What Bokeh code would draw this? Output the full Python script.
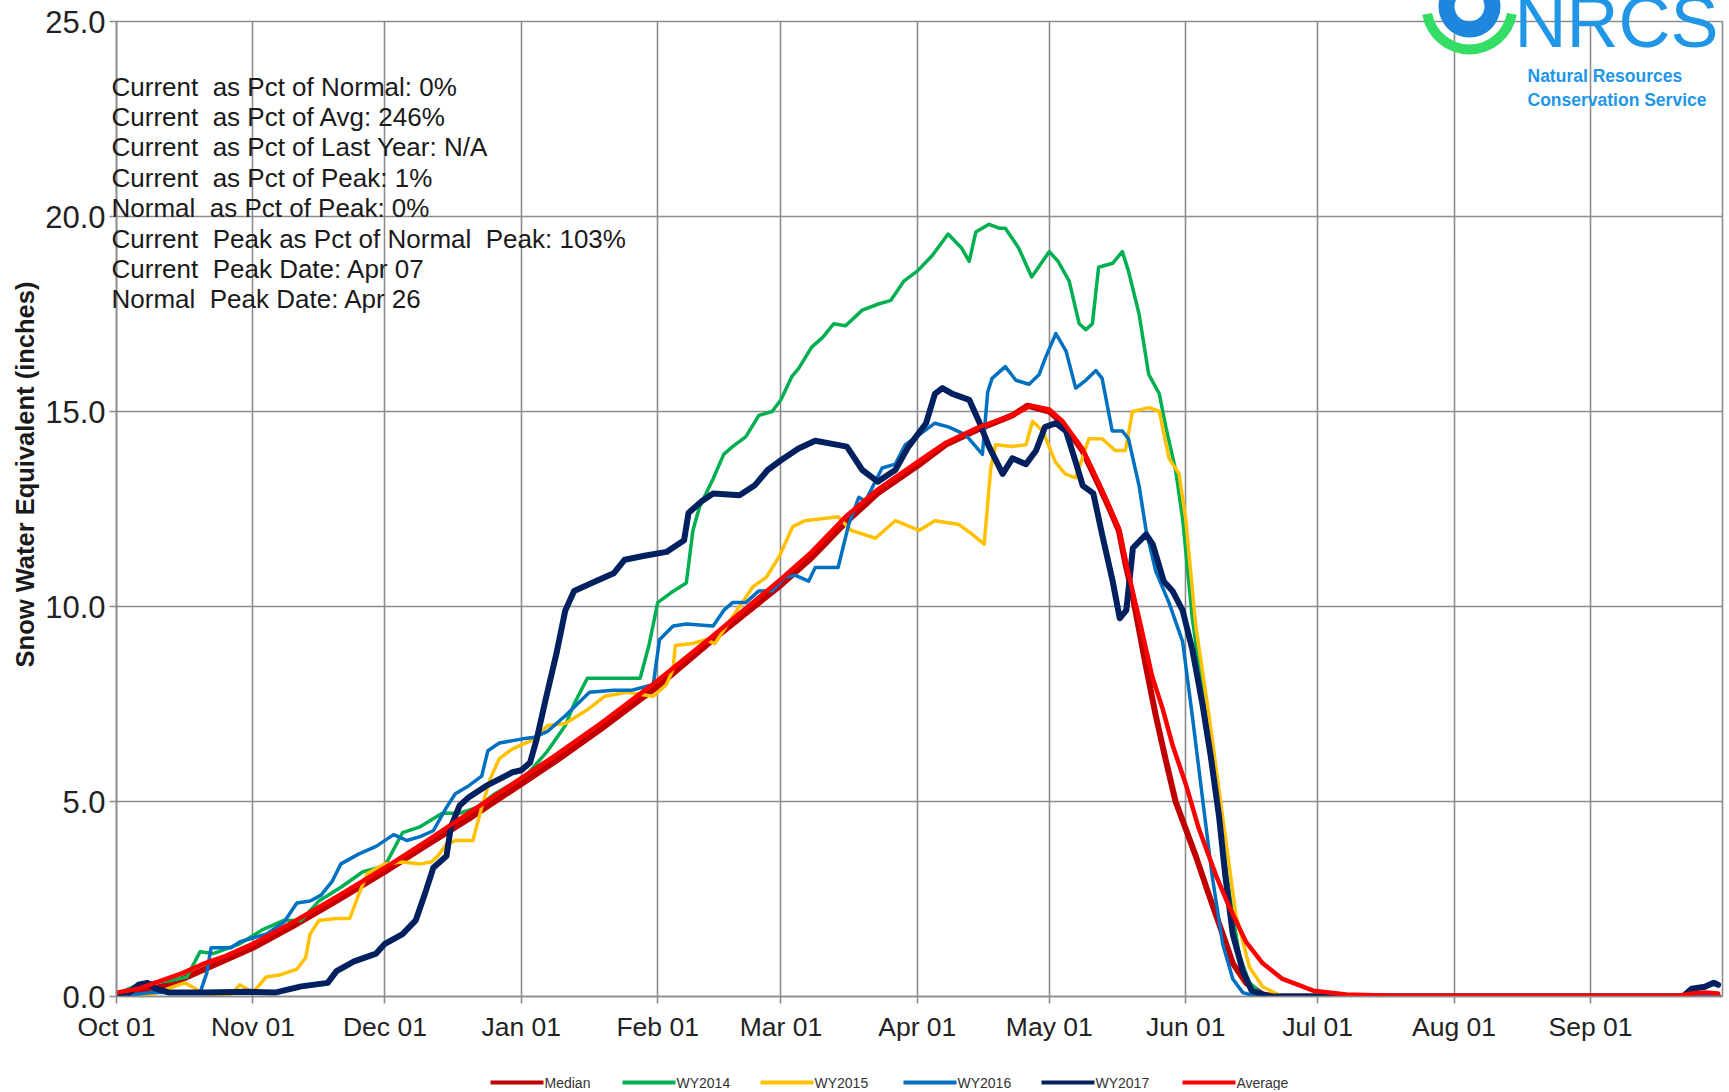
from bokeh.plotting import figure
from bokeh.models import Range1d, FixedTicker, NumeralTickFormatter
from bokeh.core.properties import value
from bokeh.embed import file_html
from bokeh.resources import INLINE
import math

# ---------------- data (day of water year from Oct 01, SWE inches) ----------------
MONTH_DAYS = [0, 31, 61, 92, 123, 151, 182, 212, 243, 273, 304, 335]
MONTH_LABELS = ["Oct 01", "Nov 01", "Dec 01", "Jan 01", "Feb 01", "Mar 01",
                "Apr 01", "May 01", "Jun 01", "Jul 01", "Aug 01", "Sep 01"]
Y_TICKS = [0, 5, 10, 15, 20, 25]

median_days = [0, 5, 10, 15, 20, 25, 31, 40, 50, 61, 70, 80, 92, 100, 110, 123, 135, 151, 158, 165.7, 173,
               182, 188.5, 196, 203.6, 207, 212, 215, 219.5, 223.3, 225.5, 227.8, 229.3, 230.9, 233.9, 236.2,
               238.5, 240.7, 243, 245.3, 248.3, 251.4, 253.7, 256.7, 260.5, 264, 364]
median_vals = [0.0, 0.1, 0.25, 0.45, 0.7, 0.95, 1.25, 1.8, 2.45, 3.2, 3.85, 4.55, 5.45, 6.05, 6.85, 7.95, 9.1,
               10.55, 11.25, 12.15, 12.9, 13.6, 14.15, 14.55, 14.9, 15.15, 15.0, 14.7, 14.0, 13.1, 12.55, 11.95,
               11.1, 10.3, 8.5, 7.2, 6.05, 5.0, 4.3, 3.6, 2.6, 1.6, 0.85, 0.35, 0.05, 0.0, 0.0]

wy2014_days = [0, 4, 8, 12, 16, 19, 22, 28, 33, 38, 42, 46, 51, 56, 61, 65, 69, 74, 78, 82, 86, 93, 98, 102,
               104, 107, 112, 119, 121, 123, 126, 129.5, 131, 132.5, 135.5, 138, 140, 143, 146, 149, 151, 153.5,
               155, 158, 160.5, 163, 165.7, 169.5, 173, 176, 179, 182, 185.4, 189, 192, 193.8, 195.3, 198.3,
               200.6, 202, 205, 208, 212, 214, 216.5, 218.8, 220.3, 221.8, 223.2, 226.4, 228.6, 230, 232.4,
               234.6, 237, 238.5, 240.7, 242.3, 244.5, 247.6, 249.9, 253, 255.2, 257.5, 260.5, 264, 364]
wy2014_vals = [0.05, 0.26, 0.35, 0.4, 0.5, 1.15, 1.1, 1.35, 1.7, 1.95, 1.95, 2.45, 2.8, 3.2, 3.35, 4.2, 4.35,
               4.7, 4.7, 4.85, 5.2, 5.65, 6.3, 6.95, 7.5, 8.16, 8.16, 8.16, 9.0, 10.1, 10.35, 10.6, 11.95, 12.55,
               13.25, 13.9, 14.1, 14.35, 14.9, 15.0, 15.3, 15.9, 16.1, 16.65, 16.9, 17.25, 17.2, 17.6, 17.75,
               17.85, 18.35, 18.6, 19.0, 19.55, 19.2, 18.85, 19.6, 19.8, 19.7, 19.7, 19.2, 18.45, 19.1, 18.85,
               18.35, 17.25, 17.1, 17.25, 18.7, 18.8, 19.1, 18.6, 17.5, 15.95, 15.45, 14.6, 13.5, 12.25, 9.7,
               7.2, 5.1, 2.6, 1.05, 0.35, 0.05, 0.0, 0.0]

wy2015_days = [0, 8, 11.7, 15.5, 18, 19, 21, 26, 28, 31, 34, 37, 41, 43, 44, 46, 50, 53, 55, 57, 61, 65, 69,
               71.5, 73, 75, 77, 81, 83, 85, 87, 90, 95, 98, 102, 107, 111, 116, 119, 122, 125, 126.5, 127, 131,
               134, 136, 138.6, 141.6, 144.6, 147.7, 150.7, 153.7, 156.5, 164, 167, 172.5, 177, 182.4, 186,
               191.5, 194.5, 197.2, 198.7, 199.8, 203.6, 206.7, 208.2, 210.5, 213.4, 215.6, 218, 221, 224, 227,
               229.3, 230.9, 234.7, 237, 239.2, 241.5, 243, 245.3, 248.3, 251.4, 254.4, 257.5, 260.5, 265, 364]
wy2015_vals = [0.0, 0.05, 0.2, 0.35, 0.2, 0.1, 0.05, 0.05, 0.3, 0.1, 0.5, 0.55, 0.7, 1.0, 1.6, 1.95, 2.0, 2.0,
               2.6, 3.15, 3.4, 3.45, 3.4, 3.45, 3.6, 3.9, 4.0, 4.0, 4.85, 5.6, 6.1, 6.35, 6.6, 6.95, 7.0, 7.35,
               7.7, 7.8, 7.75, 7.7, 8.0, 8.4, 9.0, 9.05, 9.15, 9.05, 9.5, 10.0, 10.5, 10.75, 11.3, 12.05, 12.2,
               12.3, 11.95, 11.75, 12.2, 11.95, 12.2, 12.1, 11.85, 11.6, 13.55, 14.15, 14.1, 14.15, 14.75, 14.5,
               13.7, 13.4, 13.3, 14.3, 14.3, 14.0, 14.0, 15.0, 15.1, 15.0, 13.8, 13.4, 12.25, 9.5, 7.2, 4.6, 2.1,
               0.75, 0.25, 0.0, 0.0]

wy2016_days = [0, 8, 19, 20.5, 21.5, 26, 28, 31, 34, 38, 41, 44, 46.5, 49, 51, 55, 59, 63, 66, 69, 72, 75, 77,
               80, 83, 84.4, 87, 92, 95, 98, 102, 107.5, 113, 117, 122, 123.4, 126.5, 129.5, 135.6, 138, 140,
               143, 146, 149, 152, 154.3, 157.3, 158.8, 164, 166.4, 168.7, 170.2, 174, 177, 179.3, 182.4, 186,
               189.2, 193, 195.3, 196.8, 198, 199, 202, 204.4, 207.4, 209.7, 211.2, 213.5, 215.8, 218, 220.3,
               222.6, 224, 226.3, 228.6, 230, 232.4, 234, 236.2, 239.2, 242.3, 244.5, 246.8, 249, 251.4, 253.7,
               256, 259, 364]
wy2016_vals = [0.0, 0.1, 0.1, 0.6, 1.25, 1.25, 1.4, 1.5, 1.6, 1.9, 2.4, 2.45, 2.6, 2.95, 3.4, 3.65, 3.85, 4.15,
               4.0, 4.1, 4.25, 4.85, 5.2, 5.4, 5.65, 6.3, 6.5, 6.6, 6.65, 6.8, 7.2, 7.8, 7.85, 7.85, 8.0, 9.15,
               9.5, 9.55, 9.5, 9.9, 10.1, 10.1, 10.4, 10.4, 10.75, 10.8, 10.65, 11.0, 11.0, 12.1, 12.8, 12.7,
               13.55, 13.65, 14.15, 14.4, 14.7, 14.6, 14.4, 14.1, 13.9, 15.5, 15.85, 16.15, 15.8, 15.7, 15.95,
               16.4, 17.0, 16.55, 15.6, 15.8, 16.05, 15.85, 14.5, 14.5, 14.3, 13.1, 11.95, 10.9, 10.1, 9.1, 7.2,
               5.1, 3.1, 1.35, 0.45, 0.1, 0.0, 0.0]

wy2017_days = [0, 3, 5, 7, 9, 12, 20, 30, 36, 42, 48, 50, 54, 59, 61, 65, 68, 70, 72, 75, 76, 78, 80, 84, 90,
               92, 94, 95.5, 97.5, 100, 102, 104, 108, 113, 115.5, 120, 125, 129, 130, 133, 135.6, 141.6, 145,
               148, 151, 155, 158.8, 163.6, 166, 169.5, 173, 177, 180, 184, 186, 187.7, 190, 193.8, 196, 198.3,
               201.4, 203.6, 206.7, 209, 211, 213.5, 215.8, 218, 219.6, 222, 224, 226.4, 228, 229.5, 231, 234,
               235.5, 238, 240, 242.3, 244.5, 246.8, 248.7, 250.6, 252, 253.7, 256, 258, 262, 356, 358, 361,
               363, 364]
wy2017_vals = [0.0, 0.1, 0.3, 0.35, 0.2, 0.1, 0.1, 0.12, 0.1, 0.26, 0.35, 0.65, 0.9, 1.1, 1.35, 1.6, 1.95, 2.6,
               3.3, 3.6, 4.35, 4.9, 5.1, 5.4, 5.75, 5.8, 6.0, 6.6, 7.6, 8.8, 9.9, 10.4, 10.6, 10.85, 11.2, 11.3,
               11.4, 11.7, 12.4, 12.7, 12.9, 12.85, 13.1, 13.5, 13.75, 14.05, 14.25, 14.15, 14.1, 13.5, 13.2,
               13.5, 14.1, 14.7, 15.45, 15.6, 15.45, 15.3, 14.75, 14.1, 13.4, 13.8, 13.65, 14.0, 14.6, 14.7,
               14.5, 13.7, 13.1, 12.9, 11.85, 10.65, 9.7, 9.9, 11.5, 11.85, 11.6, 10.65, 10.4, 9.9, 8.9, 7.5,
               6.15, 4.6, 3.1, 1.6, 0.65, 0.15, 0.0, 0.0, 0.2, 0.25, 0.35, 0.3]

average_days = [0, 5, 10, 15, 20, 25, 31, 40, 50, 61, 70, 80, 92, 100, 110, 123, 135, 151, 158, 165.7, 173,
                182, 188.5, 196, 203.6, 207.8, 212, 215, 219.5, 223.3, 225.5, 227.8, 229.3, 230.9, 232.4,
                235.4, 237.7, 240, 243, 246, 249.9, 252.9, 256.7, 260.5, 265, 272, 279.5, 290, 355, 358, 361,
                364]
average_vals = [0.1, 0.2, 0.4, 0.6, 0.85, 1.05, 1.35, 1.9, 2.55, 3.3, 3.95, 4.7, 5.6, 6.2, 7.0, 8.1, 9.2, 10.7,
                11.4, 12.3, 13.0, 13.7, 14.2, 14.6, 14.9, 15.15, 15.05, 14.75, 14.05, 13.15, 12.6, 12.0, 11.2,
                10.4, 9.7, 8.2, 7.4, 6.45, 5.45, 4.3, 3.1, 2.3, 1.4, 0.85, 0.45, 0.15, 0.05, 0.02, 0.02, 0.08,
                0.1, 0.08]

NB = "\u00a0"
STATS_LINES = [
    "Current" + NB + " as Pct of Normal: 0%",
    "Current" + NB + " as Pct of Avg: 246%",
    "Current" + NB + " as Pct of Last Year: N/A",
    "Current" + NB + " as Pct of Peak: 1%",
    "Normal" + NB + " as Pct of Peak: 0%",
    "Current" + NB + " Peak as Pct of Normal" + NB + " Peak: 103%",
    "Current" + NB + " Peak Date: Apr 07",
    "Normal" + NB + " Peak Date: Apr 26",
]

# ---------------- layout (page pixels == figure pixels) ----------------
FW, FH = 1728, 1090
BL, BR, BT, BB = 116, 6, 21, 94
GRID = "#8c8c8c"
FONT = "Liberation Sans"
LEGEND_X = [490, 622, 760, 903, 1041, 1182]   # left ends of the legend keys (px)
LEGEND_Y = 1082


def dx(px):
    return 365.0 * (px - BL) / (FW - BL - BR)


def dy(py):
    return 25.0 * (FH - BB - py) / (FH - BB - BT)


p = figure(width=FW, height=FH, output_backend="svg", toolbar_location=None,
           x_range=Range1d(0, 365), y_range=Range1d(0, 25),
           min_border_left=BL, min_border_right=BR, min_border_top=BT, min_border_bottom=BB)
p.background_fill_color = "white"
p.border_fill_color = "white"
p.outline_line_color = GRID
p.outline_line_width = 1.6

p.xaxis.ticker = FixedTicker(ticks=MONTH_DAYS)
p.xaxis.major_label_overrides = {d: lab for d, lab in zip(MONTH_DAYS, MONTH_LABELS)}
p.yaxis.ticker = FixedTicker(ticks=Y_TICKS)
p.yaxis.formatter = NumeralTickFormatter(format="0.0")
for ax in (p.xaxis, p.yaxis):
    ax.axis_line_color = GRID
    ax.axis_line_width = 1.6
    ax.major_tick_line_color = GRID
    ax.major_tick_line_width = 1.6
    ax.major_tick_in = 0
    ax.major_tick_out = 7
    ax.minor_tick_line_color = None
    ax.major_label_text_font = FONT
    ax.major_label_text_color = "#222222"
p.xaxis.major_label_text_font_size = "26.5px"
p.xaxis.major_label_standoff = 8
p.yaxis.major_label_text_font_size = "31px"
p.yaxis.major_label_standoff = 4

p.xgrid.grid_line_color = GRID
p.xgrid.grid_line_width = 1.6
p.ygrid.grid_line_color = GRID
p.ygrid.grid_line_width = 1.6

series = [
    ("Median", median_days, median_vals, "#C00000", 6),
    ("WY2014", wy2014_days, wy2014_vals, "#00B050", 3.5),
    ("WY2015", wy2015_days, wy2015_vals, "#FFC000", 3.5),
    ("WY2016", wy2016_days, wy2016_vals, "#0070C0", 3.5),
    ("WY2017", wy2017_days, wy2017_vals, "#002060", 6),
    ("Average", average_days, average_vals, "#FF0000", 4.5),
]
for name, xs, ys, col, lw in series:
    p.line(xs, ys, line_color=col, line_width=lw, line_join="round", line_cap="round")

# legend below the axis (drawn unclipped)
for (name, xs, ys, col, lw), lx in zip(series, LEGEND_X):
    s = p.segment(x0=[dx(lx)], y0=[dy(LEGEND_Y)], x1=[dx(lx + 53)], y1=[dy(LEGEND_Y)],
                  line_color=col, line_width=4)
    s.level = "overlay"
    t = p.text(x=[dx(lx + 54)], y=[dy(LEGEND_Y)], text=[name], text_font=value(FONT),
               text_font_size=value("14px"), text_color="#333333",
               text_align="left", text_baseline="middle")
    t.level = "overlay"

# statistics text block
st = p.text(x=[dx(111)] * len(STATS_LINES), y=[dy(86 + 30.4 * i) for i in range(len(STATS_LINES))],
            text=STATS_LINES, text_font=value(FONT), text_font_size=value("26px"), text_color="#1a1a1a",
            text_align="left", text_baseline="middle")
st.level = "overlay"

# y-axis title
yt = p.text(x=[dx(24)], y=[dy(474)], text=["Snow Water Equivalent (inches)"], angle=math.pi / 2,
            text_font=value(FONT), text_font_size=value("25.5px"), text_font_style="bold",
            text_color="#1a1a1a", text_align="center", text_baseline="middle")
yt.level = "overlay"

# NRCS logo
cx, cy = dx(1469), dy(6)
g = p.annular_wedge(x=[cx], y=[cy], inner_radius=38, outer_radius=48, inner_radius_units="screen",
                    outer_radius_units="screen", start_angle=math.radians(190), end_angle=math.radians(350),
                    fill_color="#33dd66", line_color=None)
g.level = "overlay"
b = p.annulus(x=[cx], y=[cy], inner_radius=15, outer_radius=31, inner_radius_units="screen",
              outer_radius_units="screen", fill_color="#1f86dd", line_color=None)
b.level = "overlay"
n1 = p.text(x=[dx(1514)], y=[dy(21)], text=["NRCS"], text_font=value(FONT), text_font_size=value("72px"),
            text_color="#2196e6", text_align="left", text_baseline="middle")
n1.level = "overlay"
n2 = p.text(x=[dx(1527), dx(1527)], y=[dy(75), dy(99)], text=["Natural Resources", "Conservation Service"],
            text_font=value(FONT), text_font_size=value("17.5px"), text_font_style="bold",
            text_color="#2196e6", text_align="left", text_baseline="middle")
n2.level = "overlay"

open("out.html", "w").write(file_html(p, INLINE))
